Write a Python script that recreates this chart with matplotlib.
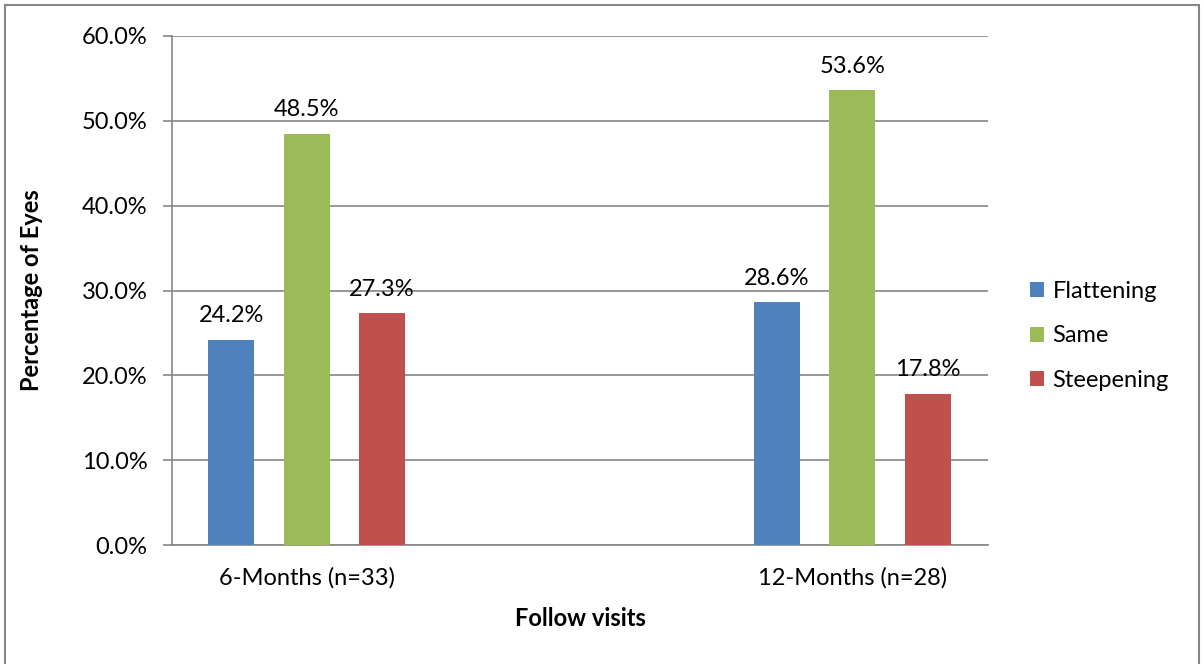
import numpy as np
import matplotlib.pyplot as plt
from matplotlib.patches import Rectangle

# Follow-up categories and the share of eyes in each curvature group
visits = ["6-Months (n=33)", "12-Months (n=28)"]
flattening = [24.2, 28.6]
same = [48.5, 53.6]
steepening = [27.3, 17.8]

series = [("Flattening", flattening, "#4f81bd"),
          ("Same", same, "#9bbb59"),
          ("Steepening", steepening, "#c0504d")]

plt.rcParams["font.family"] = ["Lato", "DejaVu Sans"]
FS = 17

fig = plt.figure(figsize=(12.04, 6.64), dpi=100)
ax = fig.add_axes([0.1429, 0.1792, 0.6777, 0.7666])

x = np.arange(len(visits))
width = 0.0843
offsets = [-0.1384, 0.0, 0.1384]

for (name, vals, color), off in zip(series, offsets):
    bars = ax.bar(x + off, vals, width, color=color, label=name, zorder=3)
    for b, v in zip(bars, vals):
        ax.text(b.get_x() + b.get_width() / 2, v + 1.6, f"{v:.1f}%",
                ha="center", va="bottom", fontsize=FS, color="black")

ax.set_xlim(-0.2466, 1.249)
ax.set_ylim(0, 60)
ax.set_yticks(np.arange(0, 61, 10))
ax.set_yticklabels([f"{t:.1f}%" for t in np.arange(0, 61, 10)], fontsize=FS)
ax.set_xticks(x)
ax.set_xticklabels(visits, fontsize=FS)
ax.tick_params(axis="x", length=0, pad=16)
ax.tick_params(axis="y", length=6.5, width=1.2, color="#868686", pad=11)

ax.yaxis.grid(True, color="#868686", linewidth=1.2, zorder=0)
for s in ["top", "right"]:
    ax.spines[s].set_visible(False)
for s in ["left", "bottom"]:
    ax.spines[s].set_color("#868686")
    ax.spines[s].set_linewidth(1.2)

ax.set_xlabel("Follow visits", fontsize=FS, fontweight="bold")
ax.set_ylabel("Percentage of Eyes", fontsize=FS, fontweight="bold")
ax.xaxis.set_label_coords(0.5, -0.122)
ax.yaxis.set_label_coords(-0.158, 0.5)

fig.legend(loc="center left", bbox_to_anchor=(0.838, 0.494), frameon=False,
           fontsize=FS, handlelength=0.6, handleheight=0.6,
           handletextpad=0.35, labelspacing=1.0)

# outer chart frame
fig.patches.append(Rectangle((5 / 1204, -0.1), 1194 / 1204, 0.1 + 659 / 664,
                             transform=fig.transFigure, fill=False,
                             edgecolor="#868686", linewidth=1.5))

fig.savefig("out.png", dpi=100)
